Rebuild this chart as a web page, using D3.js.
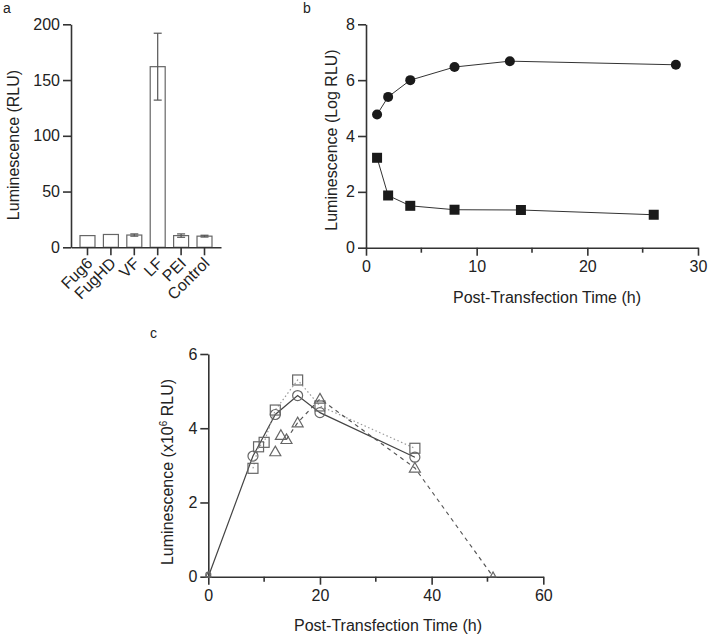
<!DOCTYPE html>
<html><head><meta charset="utf-8">
<script src="https://cdn.jsdelivr.net/npm/d3@7"></script>
<style>
body{margin:0;background:#fff}
text{font-family:"Liberation Sans",Arial,sans-serif;fill:#222}
</style></head>
<body><svg id="chart" width="708" height="634"></svg>
<script>
// ---------- Data ----------
// Panel a
const aCategories = ["Fug6","FugHD","VF","LF","PEI","Control"];
const aValues = [10.5, 11.5, 11, 162, 10.5, 10];
const aErrors = [0, 0, 1, 30, 1.5, 0.8];
const aYTicks = [0, 50, 100, 150, 200];
// Panel b
const bCircleTime = [1, 2, 4, 8, 13, 28];
const bCircleVal  = [4.77, 5.4, 6.0, 6.47, 6.68, 6.55];
const bSquareTime = [1, 2, 4, 8, 14, 26];
const bSquareVal  = [3.22, 1.87, 1.5, 1.36, 1.35, 1.18];
const bXTicks = [0, 10, 20, 30];
const bXMinor = [5, 15, 25];
const bYTicks = [0, 2, 4, 6, 8];
// Panel c
const cCircleTime = [0, 8, 12, 16, 20, 37];
const cCircleVal  = [0, 3.25, 4.37, 4.88, 4.42, 3.22];
const cSquareTime = [8, 9, 10, 12, 16, 20, 37];
const cSquareVal  = [2.92, 3.5, 3.62, 4.49, 5.3, 4.6, 3.46];
const cTriTime = [0, 12, 13, 14, 16, 20, 37, 51];
const cTriVal  = [0, 3.37, 3.81, 3.7, 4.15, 4.79, 2.93, 0];
const cTriLineFrom = 3;   // dashed line starts at 14 h
const cXTicks = [0, 20, 40, 60];
const cXMinor = [10, 30, 50];
const cYTicks = [0, 2, 4, 6];

const svg = d3.select("#chart");
const AX = "#333";
const FS = 16;

function styleAxis(g){
  g.selectAll("path.domain").attr("stroke", AX).attr("stroke-width", 1.6);
  g.selectAll(".tick line").attr("stroke", AX).attr("stroke-width", 1.6);
  g.selectAll(".tick text").attr("font-size", FS).attr("fill", "#222")
   .style("font-family", '"Liberation Sans",Arial,sans-serif');
}
function minorTicks(g, x, vals, y0, len){
  g.selectAll(null).data(vals).enter().append("line")
    .attr("x1", d => x(d)).attr("x2", d => x(d))
    .attr("y1", y0).attr("y2", y0 + len)
    .attr("stroke", AX).attr("stroke-width", 1.6);
}
function label(t, x, y, opts = {}){
  const el = svg.append("text").attr("x", x).attr("y", y).text(t)
    .attr("font-size", opts.size || FS).attr("text-anchor", opts.anchor || "middle");
  if (opts.rotate) el.attr("transform", `rotate(${opts.rotate},${x},${y})`);
  return el;
}
const fmt = d3.format("d");

// ---------- Panel a ----------
{
  const L = 71, R = 221, T = 24.3, B = 247.3;
  const x = d3.scaleBand().domain(aCategories).range([L, R]).paddingInner(0.36).paddingOuter(0.385);
  const y = d3.scaleLinear().domain([0, 200]).range([B, T]);
  const g = svg.append("g");
  const data = aCategories.map((c, i) => ({c, v: aValues[i], e: aErrors[i]}));
  g.selectAll("rect").data(data).enter().append("rect")
    .attr("x", d => x(d.c)).attr("width", x.bandwidth())
    .attr("y", d => y(d.v)).attr("height", d => y(0) - y(d.v))
    .attr("fill", "#fff").attr("stroke", "#666").attr("stroke-width", 1.2);
  const eb = g.selectAll("g.eb").data(data.filter(d => d.e > 0)).enter().append("g");
  const cx = d => x(d.c) + x.bandwidth() / 2;
  eb.append("line").attr("x1", cx).attr("x2", cx)
    .attr("y1", d => y(d.v + d.e)).attr("y2", d => y(d.v - d.e)).attr("stroke", "#555").attr("stroke-width", 1.2);
  [1, -1].forEach(s => eb.append("line")
    .attr("x1", d => cx(d) - 4).attr("x2", d => cx(d) + 4)
    .attr("y1", d => y(d.v + s * d.e)).attr("y2", d => y(d.v + s * d.e))
    .attr("stroke", "#555").attr("stroke-width", 1.2));
  const ya = svg.append("g").attr("transform", `translate(${L},0)`)
    .call(d3.axisLeft(y).tickValues(aYTicks).tickFormat(fmt).tickSize(8).tickSizeOuter(0).tickPadding(3));
  styleAxis(ya);
  const xa = svg.append("g").attr("transform", `translate(0,${B})`)
    .call(d3.axisBottom(x).tickSize(8).tickSizeOuter(0).tickFormat(""));
  styleAxis(xa);
  // rotated category labels
  aCategories.forEach(c => label(c, x(c) + x.bandwidth() / 2 + 6, B + 17, {anchor: "end", rotate: -45}));
  label("Luminescence (RLU)", 19, 145, {rotate: -90});
  label("a", 3, 13, {anchor: "start", size: 14});
}

// ---------- Panel b ----------
{
  const L = 366, R = 698, T = 24.3, B = 247.7;
  const x = d3.scaleLinear().domain([0, 30]).range([L, R]);
  const y = d3.scaleLinear().domain([0, 8]).range([B, T]);
  const ya = svg.append("g").attr("transform", `translate(${L},0)`)
    .call(d3.axisLeft(y).tickValues(bYTicks).tickFormat(fmt).tickSize(8).tickSizeOuter(0).tickPadding(3));
  styleAxis(ya);
  const xa = svg.append("g").attr("transform", `translate(0,${B})`)
    .call(d3.axisBottom(x).tickValues(bXTicks).tickFormat(fmt).tickSize(8).tickSizeOuter(0).tickPadding(5));
  styleAxis(xa);
  minorTicks(svg.append("g"), x, bXMinor, B, 5);
  const line = d3.line().x(d => x(d[0])).y(d => y(d[1]));
  const circ = bCircleTime.map((t, i) => [t, bCircleVal[i]]);
  const sq = bSquareTime.map((t, i) => [t, bSquareVal[i]]);
  svg.append("path").attr("d", line(circ)).attr("fill", "none").attr("stroke", "#333").attr("stroke-width", 1);
  svg.append("path").attr("d", line(sq)).attr("fill", "none").attr("stroke", "#333").attr("stroke-width", 1);
  svg.append("g").selectAll("circle").data(circ).enter().append("circle")
    .attr("cx", d => x(d[0])).attr("cy", d => y(d[1])).attr("r", 5).attr("fill", "#1a1a1a");
  svg.append("g").selectAll("rect").data(sq).enter().append("rect")
    .attr("x", d => x(d[0]) - 5).attr("y", d => y(d[1]) - 5).attr("width", 10).attr("height", 10).attr("fill", "#1a1a1a");
  label("Luminescence (Log RLU)", 337, 140, {rotate: -90});
  label("Post-Transfection Time (h)", 547, 303);
  label("b", 303, 13, {anchor: "start", size: 14});
}

// ---------- Panel c ----------
{
  const L = 208.3, R = 543.3, T = 354, B = 576.7;
  const x = d3.scaleLinear().domain([0, 60]).range([L, R]);
  const y = d3.scaleLinear().domain([0, 6]).range([B, T]);
  const ya = svg.append("g").attr("transform", `translate(${L},0)`)
    .call(d3.axisLeft(y).tickValues(cYTicks).tickFormat(fmt).tickSize(8).tickSizeOuter(0).tickPadding(3));
  styleAxis(ya);
  const xa = svg.append("g").attr("transform", `translate(0,${B})`)
    .call(d3.axisBottom(x).tickValues(cXTicks).tickFormat(fmt).tickSize(8).tickSizeOuter(0).tickPadding(5));
  styleAxis(xa);
  minorTicks(svg.append("g"), x, cXMinor, B, 5);
  const line = d3.line().x(d => x(d[0])).y(d => y(d[1]));
  const circ = cCircleTime.map((t, i) => [t, cCircleVal[i]]);
  const sq = cSquareTime.map((t, i) => [t, cSquareVal[i]]);
  const tri = cTriTime.map((t, i) => [t, cTriVal[i]]);
  svg.append("path").attr("d", line(circ)).attr("fill", "none").attr("stroke", "#444").attr("stroke-width", 1.2);
  svg.append("path").attr("d", line(sq)).attr("fill", "none").attr("stroke", "#999")
    .attr("stroke-width", 1.2).attr("stroke-dasharray", "1.5,2.5");
  svg.append("path").attr("d", line(tri.slice(cTriLineFrom))).attr("fill", "none").attr("stroke", "#555")
    .attr("stroke-width", 1.2).attr("stroke-dasharray", "4,4");
  const MK = "#666";
  const sz = d => d[1] === 0 ? 0.5 : 1;
  svg.append("g").selectAll("circle").data(circ).enter().append("circle")
    .attr("cx", d => x(d[0])).attr("cy", d => y(d[1]) - (d[1] === 0 ? 2 : 0)).attr("r", d => 5 * sz(d))
    .attr("fill", "none").attr("stroke", MK).attr("stroke-width", 1.2);
  svg.append("g").selectAll("rect").data(sq).enter().append("rect")
    .attr("x", d => x(d[0]) - 5).attr("y", d => y(d[1]) - 5).attr("width", 10).attr("height", 10)
    .attr("fill", "none").attr("stroke", MK).attr("stroke-width", 1.2);
  svg.append("g").selectAll("path").data(tri).enter().append("path")
    .attr("d", d => { const s = 5.5 * sz(d); const cx = x(d[0]); const cy = y(d[1]) - (d[1] === 0 ? s * 0.7 : 0);
      return `M${cx},${cy - s}L${cx + s},${cy + s * 0.75}L${cx - s},${cy + s * 0.75}Z`; })
    .attr("fill", "none").attr("stroke", MK).attr("stroke-width", 1.2);
  const yt = svg.append("text").attr("font-size", FS).attr("text-anchor", "middle")
    .attr("transform", "translate(173,472) rotate(-90)");
  yt.append("tspan").text("Luminescence (x10");
  yt.append("tspan").text("6").attr("font-size", 10).attr("dy", -6);
  yt.append("tspan").text(" RLU)").attr("dy", 6);
  label("Post-Transfection Time (h)", 388, 631);
  label("c", 150, 338, {anchor: "start", size: 14});
}
</script></body></html>
